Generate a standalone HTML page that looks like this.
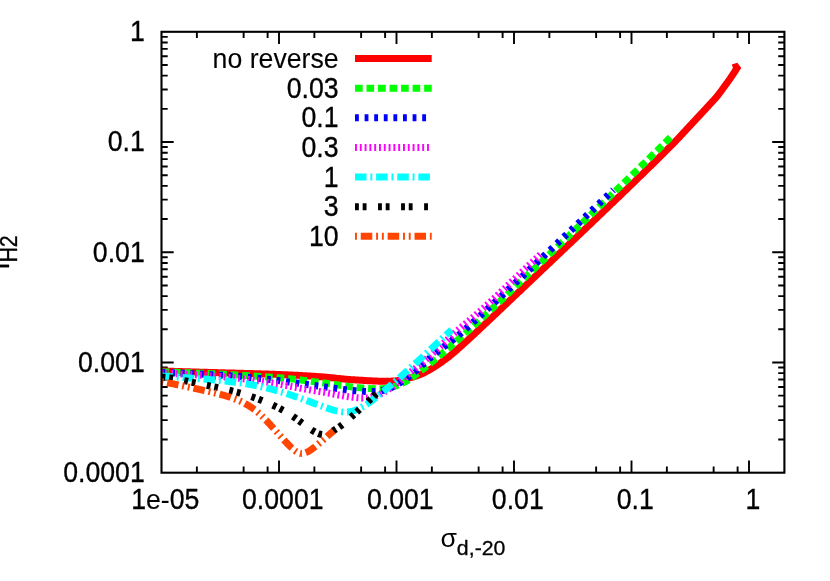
<!DOCTYPE html>
<html><head><meta charset="utf-8"><title>fH2 vs sigma_d</title>
<style>html,body{margin:0;padding:0;background:#fff;overflow:hidden}svg{display:block}text{font-family:"Liberation Sans",sans-serif}</style></head>
<body>
<svg width="830" height="581" viewBox="0 0 830 581">
<rect width="830" height="581" fill="#ffffff"/>
<path d="M161.50,108.84h6.20M784.40,108.84h-6.20M161.50,89.43h6.20M784.40,89.43h-6.20M161.50,75.66h6.20M784.40,75.66h-6.20M161.50,64.98h6.20M784.40,64.98h-6.20M161.50,56.25h6.20M784.40,56.25h-6.20M161.50,48.87h6.20M784.40,48.87h-6.20M161.50,42.48h6.20M784.40,42.48h-6.20M161.50,36.84h6.20M784.40,36.84h-6.20M161.50,142.03h12.20M784.40,142.03h-12.20M161.50,219.07h6.20M784.40,219.07h-6.20M161.50,199.66h6.20M784.40,199.66h-6.20M161.50,185.89h6.20M784.40,185.89h-6.20M161.50,175.21h6.20M784.40,175.21h-6.20M161.50,166.48h6.20M784.40,166.48h-6.20M161.50,159.10h6.20M784.40,159.10h-6.20M161.50,152.71h6.20M784.40,152.71h-6.20M161.50,147.07h6.20M784.40,147.07h-6.20M161.50,252.25h12.20M784.40,252.25h-12.20M161.50,329.29h6.20M784.40,329.29h-6.20M161.50,309.88h6.20M784.40,309.88h-6.20M161.50,296.11h6.20M784.40,296.11h-6.20M161.50,285.43h6.20M784.40,285.43h-6.20M161.50,276.70h6.20M784.40,276.70h-6.20M161.50,269.32h6.20M784.40,269.32h-6.20M161.50,262.93h6.20M784.40,262.93h-6.20M161.50,257.29h6.20M784.40,257.29h-6.20M161.50,362.47h12.20M784.40,362.47h-12.20M161.50,439.52h6.20M784.40,439.52h-6.20M161.50,420.11h6.20M784.40,420.11h-6.20M161.50,406.34h6.20M784.40,406.34h-6.20M161.50,395.66h6.20M784.40,395.66h-6.20M161.50,386.93h6.20M784.40,386.93h-6.20M161.50,379.55h6.20M784.40,379.55h-6.20M161.50,373.16h6.20M784.40,373.16h-6.20M161.50,367.52h6.20M784.40,367.52h-6.20M196.87,472.70v-6.20M196.87,31.80v6.20M243.63,472.70v-6.20M243.63,31.80v6.20M267.61,472.70v-6.20M267.61,31.80v6.20M279.00,472.70v-12.20M279.00,31.80v12.20M314.37,472.70v-6.20M314.37,31.80v6.20M361.13,472.70v-6.20M361.13,31.80v6.20M385.11,472.70v-6.20M385.11,31.80v6.20M396.50,472.70v-12.20M396.50,31.80v12.20M431.87,472.70v-6.20M431.87,31.80v6.20M478.63,472.70v-6.20M478.63,31.80v6.20M502.61,472.70v-6.20M502.61,31.80v6.20M514.00,472.70v-12.20M514.00,31.80v12.20M549.37,472.70v-6.20M549.37,31.80v6.20M596.13,472.70v-6.20M596.13,31.80v6.20M620.11,472.70v-6.20M620.11,31.80v6.20M631.50,472.70v-12.20M631.50,31.80v12.20M666.87,472.70v-6.20M666.87,31.80v6.20M713.63,472.70v-6.20M713.63,31.80v6.20M737.61,472.70v-6.20M737.61,31.80v6.20M749.00,472.70v-12.20M749.00,31.80v12.20" stroke="#000" stroke-width="1.90" fill="none"/>
<clipPath id="c"><rect x="161.50" y="31.80" width="622.90" height="440.90"/></clipPath>
<g clip-path="url(#c)" fill="none" stroke-width="7.0" stroke-linejoin="bevel">
<path d="M161.50,371.00 L162.50,371.03 L163.50,371.06 L164.50,371.09 L165.50,371.12 L166.50,371.15 L167.50,371.18 L168.50,371.21 L169.50,371.24 L170.50,371.27 L171.50,371.30 L172.50,371.33 L173.50,371.36 L174.50,371.39 L175.50,371.42 L176.50,371.45 L177.50,371.48 L178.50,371.51 L179.50,371.54 L180.50,371.57 L181.50,371.60 L182.50,371.63 L183.50,371.66 L184.50,371.69 L185.50,371.72 L186.50,371.75 L187.50,371.78 L188.50,371.81 L189.50,371.84 L190.50,371.87 L191.50,371.90 L192.50,371.93 L193.50,371.96 L194.50,371.99 L195.50,372.01 L196.50,372.04 L197.50,372.07 L198.50,372.10 L199.50,372.13 L200.50,372.16 L201.50,372.19 L202.50,372.22 L203.50,372.25 L204.50,372.28 L205.50,372.31 L206.50,372.34 L207.50,372.37 L208.50,372.39 L209.50,372.42 L210.50,372.45 L211.50,372.48 L212.50,372.51 L213.50,372.54 L214.50,372.57 L215.50,372.60 L216.50,372.62 L217.50,372.65 L218.50,372.68 L219.50,372.71 L220.50,372.74 L221.50,372.76 L222.50,372.79 L223.50,372.82 L224.50,372.85 L225.50,372.88 L226.50,372.90 L227.50,372.93 L228.50,372.96 L229.50,372.99 L230.50,373.01 L231.50,373.04 L232.50,373.07 L233.50,373.10 L234.50,373.12 L235.50,373.15 L236.50,373.18 L237.50,373.20 L238.50,373.23 L239.50,373.26 L240.50,373.28 L241.50,373.31 L242.50,373.34 L243.50,373.37 L244.50,373.39 L245.50,373.42 L246.50,373.45 L247.50,373.48 L248.50,373.50 L249.50,373.53 L250.50,373.56 L251.50,373.59 L252.50,373.62 L253.50,373.65 L254.50,373.68 L255.50,373.71 L256.50,373.74 L257.50,373.77 L258.50,373.80 L259.50,373.83 L260.50,373.86 L261.50,373.89 L262.50,373.92 L263.50,373.95 L264.50,373.98 L265.50,374.02 L266.50,374.05 L267.50,374.08 L268.50,374.12 L269.50,374.15 L270.50,374.19 L271.50,374.22 L272.50,374.26 L273.50,374.29 L274.50,374.33 L275.50,374.37 L276.50,374.40 L277.50,374.44 L278.50,374.48 L279.50,374.52 L280.50,374.56 L281.50,374.60 L282.50,374.64 L283.50,374.68 L284.50,374.72 L285.50,374.77 L286.50,374.81 L287.50,374.85 L288.50,374.90 L289.50,374.94 L290.50,374.99 L291.50,375.03 L292.50,375.08 L293.50,375.13 L294.50,375.18 L295.50,375.22 L296.50,375.27 L297.50,375.32 L298.50,375.37 L299.50,375.43 L300.50,375.48 L301.50,375.53 L302.50,375.59 L303.50,375.64 L304.50,375.70 L305.50,375.76 L306.50,375.81 L307.50,375.87 L308.50,375.93 L309.50,376.00 L310.50,376.06 L311.50,376.12 L312.50,376.19 L313.50,376.26 L314.50,376.33 L315.50,376.40 L316.50,376.47 L317.50,376.54 L318.50,376.62 L319.50,376.69 L320.50,376.77 L321.50,376.85 L322.50,376.93 L323.50,377.01 L324.50,377.10 L325.50,377.19 L326.50,377.27 L327.50,377.36 L328.50,377.46 L329.50,377.55 L330.50,377.65 L331.50,377.75 L332.50,377.85 L333.50,377.95 L334.50,378.05 L335.50,378.15 L336.50,378.26 L337.50,378.36 L338.50,378.46 L339.50,378.56 L340.50,378.66 L341.50,378.76 L342.50,378.86 L343.50,378.95 L344.50,379.05 L345.50,379.14 L346.50,379.22 L347.50,379.31 L348.50,379.39 L349.50,379.47 L350.50,379.55 L351.50,379.62 L352.50,379.70 L353.50,379.77 L354.50,379.84 L355.50,379.91 L356.50,379.98 L357.50,380.04 L358.50,380.11 L359.50,380.17 L360.50,380.23 L361.50,380.29 L362.50,380.35 L363.50,380.41 L364.50,380.47 L365.50,380.53 L366.50,380.59 L367.50,380.64 L368.50,380.70 L369.50,380.75 L370.50,380.80 L371.50,380.85 L372.50,380.90 L373.50,380.94 L374.50,380.99 L375.50,381.02 L376.50,381.06 L377.50,381.10 L378.50,381.13 L379.50,381.15 L380.50,381.18 L381.50,381.19 L382.50,381.21 L383.50,381.22 L384.50,381.22 L385.50,381.22 L386.50,381.22 L387.50,381.21 L388.50,381.19 L389.50,381.17 L390.50,381.14 L391.50,381.10 L392.50,381.05 L393.50,380.98 L394.50,380.90 L395.50,380.81 L396.50,380.70 L397.50,380.57 L398.50,380.42 L399.50,380.25 L400.50,380.07 L401.50,379.87 L402.50,379.65 L403.50,379.42 L404.50,379.18 L405.50,378.94 L406.50,378.68 L407.50,378.43 L408.50,378.17 L409.50,377.91 L410.50,377.65 L411.50,377.38 L412.50,377.10 L413.50,376.82 L414.50,376.52 L415.50,376.21 L416.50,375.88 L417.50,375.54 L418.50,375.18 L419.50,374.80 L420.50,374.40 L421.50,373.97 L422.50,373.52 L423.50,373.05 L424.50,372.57 L425.50,372.06 L426.50,371.53 L427.50,370.99 L428.50,370.44 L429.50,369.86 L430.50,369.28 L431.50,368.68 L432.50,368.07 L433.50,367.45 L434.50,366.82 L435.50,366.18 L436.50,365.53 L437.50,364.87 L438.50,364.21 L439.50,363.53 L440.50,362.85 L441.50,362.15 L442.50,361.44 L443.50,360.73 L444.50,360.00 L445.50,359.25 L446.50,358.50 L447.50,357.73 L448.50,356.95 L449.50,356.16 L450.50,355.35 L451.50,354.52 L452.50,353.69 L453.50,352.84 L454.50,351.99 L455.50,351.12 L456.50,350.25 L457.50,349.37 L458.50,348.48 L459.50,347.59 L460.50,346.69 L461.50,345.80 L462.50,344.90 L463.50,343.99 L464.50,343.09 L465.50,342.18 L466.50,341.27 L467.50,340.36 L468.50,339.44 L469.50,338.52 L470.50,337.60 L471.50,336.67 L472.50,335.75 L473.50,334.82 L474.50,333.89 L475.50,332.95 L476.50,332.02 L477.50,331.08 L478.50,330.14 L479.50,329.20 L480.50,328.26 L481.50,327.32 L482.50,326.38 L483.50,325.44 L484.50,324.50 L485.50,323.55 L486.50,322.61 L487.50,321.66 L488.50,320.72 L489.50,319.77 L490.50,318.83 L491.50,317.88 L492.50,316.94 L493.50,315.99 L494.50,315.04 L495.50,314.10 L496.50,313.15 L497.50,312.20 L498.50,311.25 L499.50,310.31 L500.50,309.36 L501.50,308.41 L502.50,307.46 L503.50,306.51 L504.50,305.57 L505.50,304.62 L506.50,303.67 L507.50,302.72 L508.50,301.77 L509.50,300.82 L510.50,299.88 L511.50,298.93 L512.50,297.98 L513.50,297.03 L514.50,296.08 L515.50,295.13 L516.50,294.19 L517.50,293.24 L518.50,292.29 L519.50,291.34 L520.50,290.39 L521.50,289.44 L522.50,288.49 L523.50,287.55 L524.50,286.60 L525.50,285.65 L526.50,284.70 L527.50,283.75 L528.50,282.80 L529.50,281.85 L530.50,280.90 L531.50,279.96 L532.50,279.01 L533.50,278.06 L534.50,277.11 L535.50,276.16 L536.50,275.21 L537.50,274.26 L538.50,273.31 L539.50,272.36 L540.50,271.41 L541.50,270.47 L542.50,269.52 L543.50,268.57 L544.50,267.62 L545.50,266.67 L546.50,265.72 L547.50,264.77 L548.50,263.82 L549.50,262.87 L550.50,261.92 L551.50,260.97 L552.50,260.02 L553.50,259.07 L554.50,258.12 L555.50,257.17 L556.50,256.22 L557.50,255.27 L558.50,254.32 L559.50,253.37 L560.50,252.42 L561.50,251.47 L562.50,250.52 L563.50,249.57 L564.50,248.62 L565.50,247.67 L566.50,246.72 L567.50,245.77 L568.50,244.82 L569.50,243.87 L570.50,242.92 L571.50,241.97 L572.50,241.02 L573.50,240.07 L574.50,239.12 L575.50,238.17 L576.50,237.22 L577.50,236.26 L578.50,235.31 L579.50,234.36 L580.50,233.41 L581.50,232.46 L582.50,231.51 L583.50,230.55 L584.50,229.60 L585.50,228.65 L586.50,227.70 L587.50,226.74 L588.50,225.79 L589.50,224.84 L590.50,223.89 L591.50,222.93 L592.50,221.98 L593.50,221.03 L594.50,220.07 L595.50,219.12 L596.50,218.17 L597.50,217.21 L598.50,216.26 L599.50,215.30 L600.50,214.35 L601.50,213.39 L602.50,212.44 L603.50,211.48 L604.50,210.53 L605.50,209.57 L606.50,208.61 L607.50,207.66 L608.50,206.70 L609.50,205.75 L610.50,204.79 L611.50,203.83 L612.50,202.87 L613.50,201.91 L614.50,200.96 L615.50,200.00 L616.50,199.04 L617.50,198.08 L618.50,197.12 L619.50,196.16 L620.50,195.20 L621.50,194.24 L622.50,193.28 L623.50,192.32 L624.50,191.35 L625.50,190.39 L626.50,189.43 L627.50,188.47 L628.50,187.50 L629.50,186.54 L630.50,185.57 L631.50,184.61 L632.50,183.64 L633.50,182.67 L634.50,181.71 L635.50,180.74 L636.50,179.77 L637.50,178.80 L638.50,177.83 L639.50,176.86 L640.50,175.89 L641.50,174.92 L642.50,173.95 L643.50,172.98 L644.50,172.00 L645.50,171.03 L646.50,170.05 L647.50,169.08 L648.50,168.10 L649.50,167.12 L650.50,166.14 L651.50,165.16 L652.50,164.18 L653.50,163.20 L654.50,162.21 L655.50,161.23 L656.50,160.24 L657.50,159.26 L658.50,158.27 L659.50,157.28 L660.50,156.29 L661.50,155.30 L662.50,154.31 L663.50,153.31 L664.50,152.32 L665.50,151.32 L666.50,150.32 L667.50,149.32 L668.50,148.32 L669.50,147.31 L670.50,146.31 L671.50,145.29 L672.50,144.28 L673.50,143.26 L674.50,142.24 L675.50,141.21 L676.50,140.17 L677.50,139.13 L678.50,138.08 L679.50,137.03 L680.50,135.97 L681.50,134.90 L682.50,133.82 L683.50,132.74 L684.50,131.66 L685.50,130.58 L686.50,129.49 L687.50,128.41 L688.50,127.33 L689.50,126.24 L690.50,125.17 L691.50,124.09 L692.50,123.01 L693.50,121.94 L694.50,120.86 L695.50,119.79 L696.50,118.72 L697.50,117.65 L698.50,116.58 L699.50,115.51 L700.50,114.44 L701.50,113.36 L702.50,112.29 L703.50,111.21 L704.50,110.13 L705.50,109.06 L706.50,107.98 L707.50,106.90 L708.50,105.82 L709.50,104.74 L710.50,103.66 L711.50,102.58 L712.50,101.49 L713.50,100.39 L714.50,99.26 L715.50,98.12 L716.50,96.94 L717.50,95.72 L718.50,94.47 L719.50,93.17 L720.50,91.84 L721.50,90.48 L722.50,89.11 L723.50,87.73 L724.50,86.34 L725.50,84.96 L726.50,83.59 L727.50,82.22 L728.50,80.84 L729.50,79.44 L730.50,78.01 L731.50,76.55 L732.50,75.05 L733.50,73.54 L734.50,72.01 L735.50,70.47 L736.50,68.93 L737.50,67.39 L738.40,66.00 L732.90,67.90" stroke="#ff0000"/>
<path d="M161.50,371.80 L162.50,371.83 L163.50,371.87 L164.50,371.90 L165.50,371.94 L166.50,371.97 L167.50,372.01 L168.50,372.04 L169.50,372.07 L170.50,372.11 L171.50,372.14 L172.50,372.18 L173.50,372.21 L174.50,372.25 L175.50,372.28 L176.50,372.32 L177.50,372.35 L178.50,372.39 L179.50,372.43 L180.50,372.46 L181.50,372.50 L182.50,372.53 L183.50,372.57 L184.50,372.61 L185.50,372.64 L186.50,372.68 L187.50,372.72 L188.50,372.75 L189.50,372.79 L190.50,372.83 L191.50,372.87 L192.50,372.90 L193.50,372.94 L194.50,372.98 L195.50,373.02 L196.50,373.06 L197.50,373.10 L198.50,373.14 L199.50,373.18 L200.50,373.22 L201.50,373.26 L202.50,373.30 L203.50,373.34 L204.50,373.38 L205.50,373.43 L206.50,373.47 L207.50,373.51 L208.50,373.55 L209.50,373.60 L210.50,373.64 L211.50,373.69 L212.50,373.73 L213.50,373.78 L214.50,373.82 L215.50,373.87 L216.50,373.92 L217.50,373.96 L218.50,374.01 L219.50,374.06 L220.50,374.11 L221.50,374.16 L222.50,374.21 L223.50,374.26 L224.50,374.31 L225.50,374.36 L226.50,374.41 L227.50,374.47 L228.50,374.52 L229.50,374.57 L230.50,374.63 L231.50,374.68 L232.50,374.74 L233.50,374.79 L234.50,374.85 L235.50,374.91 L236.50,374.97 L237.50,375.03 L238.50,375.08 L239.50,375.14 L240.50,375.20 L241.50,375.26 L242.50,375.33 L243.50,375.39 L244.50,375.45 L245.50,375.51 L246.50,375.57 L247.50,375.64 L248.50,375.70 L249.50,375.77 L250.50,375.83 L251.50,375.89 L252.50,375.96 L253.50,376.03 L254.50,376.09 L255.50,376.16 L256.50,376.22 L257.50,376.29 L258.50,376.36 L259.50,376.43 L260.50,376.49 L261.50,376.56 L262.50,376.63 L263.50,376.70 L264.50,376.77 L265.50,376.83 L266.50,376.90 L267.50,376.97 L268.50,377.04 L269.50,377.11 L270.50,377.18 L271.50,377.25 L272.50,377.33 L273.50,377.40 L274.50,377.47 L275.50,377.55 L276.50,377.62 L277.50,377.70 L278.50,377.78 L279.50,377.86 L280.50,377.94 L281.50,378.02 L282.50,378.10 L283.50,378.19 L284.50,378.27 L285.50,378.36 L286.50,378.45 L287.50,378.54 L288.50,378.64 L289.50,378.73 L290.50,378.83 L291.50,378.93 L292.50,379.03 L293.50,379.14 L294.50,379.25 L295.50,379.36 L296.50,379.47 L297.50,379.58 L298.50,379.70 L299.50,379.82 L300.50,379.94 L301.50,380.06 L302.50,380.18 L303.50,380.31 L304.50,380.43 L305.50,380.56 L306.50,380.69 L307.50,380.82 L308.50,380.95 L309.50,381.08 L310.50,381.21 L311.50,381.34 L312.50,381.47 L313.50,381.60 L314.50,381.73 L315.50,381.87 L316.50,382.00 L317.50,382.13 L318.50,382.26 L319.50,382.39 L320.50,382.52 L321.50,382.65 L322.50,382.78 L323.50,382.91 L324.50,383.04 L325.50,383.18 L326.50,383.31 L327.50,383.45 L328.50,383.59 L329.50,383.73 L330.50,383.87 L331.50,384.02 L332.50,384.16 L333.50,384.31 L334.50,384.46 L335.50,384.61 L336.50,384.75 L337.50,384.90 L338.50,385.05 L339.50,385.20 L340.50,385.35 L341.50,385.50 L342.50,385.64 L343.50,385.79 L344.50,385.93 L345.50,386.07 L346.50,386.21 L347.50,386.34 L348.50,386.47 L349.50,386.60 L350.50,386.73 L351.50,386.85 L352.50,386.97 L353.50,387.08 L354.50,387.20 L355.50,387.31 L356.50,387.41 L357.50,387.52 L358.50,387.62 L359.50,387.71 L360.50,387.81 L361.50,387.90 L362.50,387.99 L363.50,388.08 L364.50,388.16 L365.50,388.24 L366.50,388.32 L367.50,388.39 L368.50,388.46 L369.50,388.53 L370.50,388.59 L371.50,388.64 L372.50,388.69 L373.50,388.73 L374.50,388.76 L375.50,388.78 L376.50,388.80 L377.50,388.80 L378.50,388.80 L379.50,388.78 L380.50,388.75 L381.50,388.70 L382.50,388.64 L383.50,388.56 L384.50,388.47 L385.50,388.36 L386.50,388.23 L387.50,388.08 L388.50,387.90 L389.50,387.71 L390.50,387.49 L391.50,387.24 L392.50,386.97 L393.50,386.68 L394.50,386.37 L395.50,386.04 L396.50,385.68 L397.50,385.31 L398.50,384.92 L399.50,384.51 L400.50,384.08 L401.50,383.64 L402.50,383.18 L403.50,382.70 L404.50,382.20 L405.50,381.67 L406.50,381.12 L407.50,380.55 L408.50,379.95 L409.50,379.32 L410.50,378.67 L411.50,377.99 L412.50,377.28 L413.50,376.55 L414.50,375.80 L415.50,375.04 L416.50,374.27 L417.50,373.48 L418.50,372.69 L419.50,371.90 L420.50,371.10 L421.50,370.31 L422.50,369.52 L423.50,368.73 L424.50,367.93 L425.50,367.14 L426.50,366.35 L427.50,365.55 L428.50,364.75 L429.50,363.96 L430.50,363.15 L431.50,362.35 L432.50,361.54 L433.50,360.73 L434.50,359.91 L435.50,359.09 L436.50,358.26 L437.50,357.43 L438.50,356.60 L439.50,355.76 L440.50,354.91 L441.50,354.07 L442.50,353.21 L443.50,352.36 L444.50,351.50 L445.50,350.65 L446.50,349.78 L447.50,348.92 L448.50,348.06 L449.50,347.19 L450.50,346.32 L451.50,345.45 L452.50,344.58 L453.50,343.71 L454.50,342.83 L455.50,341.96 L456.50,341.08 L457.50,340.20 L458.50,339.32 L459.50,338.44 L460.50,337.56 L461.50,336.68 L462.50,335.79 L463.50,334.90 L464.50,334.02 L465.50,333.13 L466.50,332.23 L467.50,331.34 L468.50,330.44 L469.50,329.55 L470.50,328.65 L471.50,327.74 L472.50,326.84 L473.50,325.94 L474.50,325.03 L475.50,324.12 L476.50,323.21 L477.50,322.29 L478.50,321.38 L479.50,320.46 L480.50,319.54 L481.50,318.62 L482.50,317.70 L483.50,316.77 L484.50,315.84 L485.50,314.91 L486.50,313.98 L487.50,313.05 L488.50,312.11 L489.50,311.17 L490.50,310.24 L491.50,309.30 L492.50,308.36 L493.50,307.41 L494.50,306.47 L495.50,305.53 L496.50,304.58 L497.50,303.63 L498.50,302.68 L499.50,301.74 L500.50,300.79 L501.50,299.84 L502.50,298.88 L503.50,297.93 L504.50,296.98 L505.50,296.03 L506.50,295.08 L507.50,294.12 L508.50,293.17 L509.50,292.21 L510.50,291.26 L511.50,290.31 L512.50,289.35 L513.50,288.40 L514.50,287.44 L515.50,286.49 L516.50,285.54 L517.50,284.58 L518.50,283.63 L519.50,282.68 L520.50,281.73 L521.50,280.78 L522.50,279.82 L523.50,278.87 L524.50,277.92 L525.50,276.98 L526.50,276.03 L527.50,275.08 L528.50,274.13 L529.50,273.18 L530.50,272.24 L531.50,271.29 L532.50,270.34 L533.50,269.40 L534.50,268.45 L535.50,267.50 L536.50,266.56 L537.50,265.61 L538.50,264.66 L539.50,263.72 L540.50,262.77 L541.50,261.83 L542.50,260.88 L543.50,259.93 L544.50,258.99 L545.50,258.04 L546.50,257.09 L547.50,256.15 L548.50,255.20 L549.50,254.25 L550.50,253.30 L551.50,252.36 L552.50,251.41 L553.50,250.46 L554.50,249.51 L555.50,248.56 L556.50,247.61 L557.50,246.66 L558.50,245.71 L559.50,244.75 L560.50,243.80 L561.50,242.85 L562.50,241.89 L563.50,240.94 L564.50,239.98 L565.50,239.03 L566.50,238.07 L567.50,237.12 L568.50,236.16 L569.50,235.20 L570.50,234.24 L571.50,233.28 L572.50,232.32 L573.50,231.36 L574.50,230.40 L575.50,229.44 L576.50,228.48 L577.50,227.52 L578.50,226.56 L579.50,225.60 L580.50,224.64 L581.50,223.68 L582.50,222.71 L583.50,221.75 L584.50,220.79 L585.50,219.83 L586.50,218.86 L587.50,217.90 L588.50,216.94 L589.50,215.97 L590.50,215.01 L591.50,214.05 L592.50,213.08 L593.50,212.12 L594.50,211.16 L595.50,210.19 L596.50,209.23 L597.50,208.27 L598.50,207.30 L599.50,206.34 L600.50,205.38 L601.50,204.42 L602.50,203.45 L603.50,202.49 L604.50,201.53 L605.50,200.57 L606.50,199.60 L607.50,198.64 L608.50,197.68 L609.50,196.72 L610.50,195.75 L611.50,194.79 L612.50,193.83 L613.50,192.87 L614.50,191.90 L615.50,190.94 L616.50,189.98 L617.50,189.02 L618.50,188.05 L619.50,187.09 L620.50,186.13 L621.50,185.16 L622.50,184.20 L623.50,183.23 L624.50,182.27 L625.50,181.30 L626.50,180.34 L627.50,179.37 L628.50,178.41 L629.50,177.44 L630.50,176.48 L631.50,175.51 L632.50,174.54 L633.50,173.58 L634.50,172.61 L635.50,171.64 L636.50,170.67 L637.50,169.70 L638.50,168.73 L639.50,167.76 L640.50,166.79 L641.50,165.82 L642.50,164.85 L643.50,163.88 L644.50,162.90 L645.50,161.93 L646.50,160.96 L647.50,159.98 L648.50,159.00 L649.50,158.03 L650.50,157.05 L651.50,156.07 L652.50,155.09 L653.50,154.10 L654.50,153.12 L655.50,152.14 L656.50,151.15 L657.50,150.16 L658.50,149.17 L659.50,148.18 L660.50,147.19 L661.50,146.19 L662.50,145.20 L663.50,144.20 L664.50,143.20 L665.50,142.21 L666.50,141.21 L667.50,140.20 L668.50,139.20 L669.50,138.20 L670.50,137.20 L671.00,136.70" stroke="#00ff00" stroke-dasharray="7.68,3.84"/>
<path d="M161.50,372.40 L162.50,372.44 L163.50,372.48 L164.50,372.52 L165.50,372.56 L166.50,372.60 L167.50,372.64 L168.50,372.68 L169.50,372.72 L170.50,372.76 L171.50,372.80 L172.50,372.84 L173.50,372.88 L174.50,372.92 L175.50,372.96 L176.50,373.00 L177.50,373.04 L178.50,373.08 L179.50,373.12 L180.50,373.17 L181.50,373.21 L182.50,373.25 L183.50,373.29 L184.50,373.33 L185.50,373.38 L186.50,373.42 L187.50,373.46 L188.50,373.51 L189.50,373.55 L190.50,373.60 L191.50,373.64 L192.50,373.69 L193.50,373.73 L194.50,373.78 L195.50,373.82 L196.50,373.87 L197.50,373.92 L198.50,373.96 L199.50,374.01 L200.50,374.06 L201.50,374.11 L202.50,374.16 L203.50,374.21 L204.50,374.26 L205.50,374.31 L206.50,374.36 L207.50,374.42 L208.50,374.47 L209.50,374.52 L210.50,374.58 L211.50,374.63 L212.50,374.69 L213.50,374.74 L214.50,374.80 L215.50,374.86 L216.50,374.92 L217.50,374.98 L218.50,375.04 L219.50,375.10 L220.50,375.16 L221.50,375.22 L222.50,375.29 L223.50,375.35 L224.50,375.42 L225.50,375.49 L226.50,375.55 L227.50,375.62 L228.50,375.69 L229.50,375.76 L230.50,375.84 L231.50,375.91 L232.50,375.98 L233.50,376.06 L234.50,376.13 L235.50,376.21 L236.50,376.29 L237.50,376.37 L238.50,376.45 L239.50,376.53 L240.50,376.62 L241.50,376.70 L242.50,376.78 L243.50,376.87 L244.50,376.96 L245.50,377.05 L246.50,377.14 L247.50,377.23 L248.50,377.32 L249.50,377.41 L250.50,377.51 L251.50,377.60 L252.50,377.70 L253.50,377.79 L254.50,377.89 L255.50,377.99 L256.50,378.09 L257.50,378.20 L258.50,378.30 L259.50,378.40 L260.50,378.51 L261.50,378.62 L262.50,378.72 L263.50,378.83 L264.50,378.94 L265.50,379.06 L266.50,379.17 L267.50,379.28 L268.50,379.40 L269.50,379.51 L270.50,379.63 L271.50,379.75 L272.50,379.87 L273.50,379.99 L274.50,380.11 L275.50,380.23 L276.50,380.36 L277.50,380.48 L278.50,380.61 L279.50,380.73 L280.50,380.86 L281.50,380.99 L282.50,381.12 L283.50,381.25 L284.50,381.38 L285.50,381.51 L286.50,381.64 L287.50,381.78 L288.50,381.91 L289.50,382.05 L290.50,382.18 L291.50,382.32 L292.50,382.45 L293.50,382.59 L294.50,382.73 L295.50,382.87 L296.50,383.01 L297.50,383.15 L298.50,383.29 L299.50,383.43 L300.50,383.57 L301.50,383.71 L302.50,383.85 L303.50,384.00 L304.50,384.14 L305.50,384.28 L306.50,384.42 L307.50,384.56 L308.50,384.70 L309.50,384.84 L310.50,384.98 L311.50,385.12 L312.50,385.26 L313.50,385.40 L314.50,385.53 L315.50,385.67 L316.50,385.80 L317.50,385.94 L318.50,386.07 L319.50,386.20 L320.50,386.33 L321.50,386.47 L322.50,386.60 L323.50,386.73 L324.50,386.86 L325.50,387.00 L326.50,387.13 L327.50,387.26 L328.50,387.40 L329.50,387.53 L330.50,387.67 L331.50,387.81 L332.50,387.94 L333.50,388.08 L334.50,388.22 L335.50,388.36 L336.50,388.49 L337.50,388.63 L338.50,388.77 L339.50,388.90 L340.50,389.04 L341.50,389.17 L342.50,389.30 L343.50,389.43 L344.50,389.56 L345.50,389.68 L346.50,389.80 L347.50,389.92 L348.50,390.03 L349.50,390.15 L350.50,390.25 L351.50,390.36 L352.50,390.46 L353.50,390.55 L354.50,390.65 L355.50,390.74 L356.50,390.82 L357.50,390.90 L358.50,390.98 L359.50,391.06 L360.50,391.13 L361.50,391.20 L362.50,391.27 L363.50,391.33 L364.50,391.39 L365.50,391.45 L366.50,391.50 L367.50,391.54 L368.50,391.57 L369.50,391.60 L370.50,391.61 L371.50,391.62 L372.50,391.61 L373.50,391.59 L374.50,391.55 L375.50,391.50 L376.50,391.43 L377.50,391.33 L378.50,391.22 L379.50,391.08 L380.50,390.92 L381.50,390.74 L382.50,390.52 L383.50,390.27 L384.50,390.00 L385.50,389.69 L386.50,389.36 L387.50,389.00 L388.50,388.61 L389.50,388.21 L390.50,387.77 L391.50,387.32 L392.50,386.84 L393.50,386.35 L394.50,385.84 L395.50,385.31 L396.50,384.75 L397.50,384.18 L398.50,383.60 L399.50,382.99 L400.50,382.36 L401.50,381.71 L402.50,381.04 L403.50,380.35 L404.50,379.65 L405.50,378.92 L406.50,378.18 L407.50,377.42 L408.50,376.64 L409.50,375.86 L410.50,375.05 L411.50,374.24 L412.50,373.42 L413.50,372.58 L414.50,371.74 L415.50,370.89 L416.50,370.03 L417.50,369.16 L418.50,368.29 L419.50,367.41 L420.50,366.53 L421.50,365.64 L422.50,364.74 L423.50,363.85 L424.50,362.95 L425.50,362.05 L426.50,361.15 L427.50,360.25 L428.50,359.35 L429.50,358.45 L430.50,357.56 L431.50,356.68 L432.50,355.80 L433.50,354.94 L434.50,354.08 L435.50,353.24 L436.50,352.41 L437.50,351.59 L438.50,350.80 L439.50,350.01 L440.50,349.24 L441.50,348.47 L442.50,347.71 L443.50,346.96 L444.50,346.21 L445.50,345.46 L446.50,344.71 L447.50,343.96 L448.50,343.20 L449.50,342.44 L450.50,341.67 L451.50,340.89 L452.50,340.10 L453.50,339.30 L454.50,338.49 L455.50,337.67 L456.50,336.85 L457.50,336.02 L458.50,335.18 L459.50,334.33 L460.50,333.48 L461.50,332.62 L462.50,331.75 L463.50,330.88 L464.50,330.00 L465.50,329.12 L466.50,328.23 L467.50,327.34 L468.50,326.45 L469.50,325.55 L470.50,324.64 L471.50,323.74 L472.50,322.83 L473.50,321.91 L474.50,321.00 L475.50,320.08 L476.50,319.16 L477.50,318.24 L478.50,317.31 L479.50,316.39 L480.50,315.47 L481.50,314.54 L482.50,313.62 L483.50,312.69 L484.50,311.76 L485.50,310.84 L486.50,309.91 L487.50,308.98 L488.50,308.05 L489.50,307.12 L490.50,306.19 L491.50,305.26 L492.50,304.33 L493.50,303.40 L494.50,302.47 L495.50,301.54 L496.50,300.61 L497.50,299.67 L498.50,298.74 L499.50,297.81 L500.50,296.87 L501.50,295.94 L502.50,295.00 L503.50,294.07 L504.50,293.13 L505.50,292.19 L506.50,291.26 L507.50,290.32 L508.50,289.38 L509.50,288.44 L510.50,287.50 L511.50,286.56 L512.50,285.63 L513.50,284.69 L514.50,283.74 L515.50,282.80 L516.50,281.86 L517.50,280.92 L518.50,279.98 L519.50,279.04 L520.50,278.09 L521.50,277.15 L522.50,276.21 L523.50,275.26 L524.50,274.32 L525.50,273.37 L526.50,272.43 L527.50,271.48 L528.50,270.54 L529.50,269.59 L530.50,268.65 L531.50,267.70 L532.50,266.76 L533.50,265.81 L534.50,264.86 L535.50,263.91 L536.50,262.97 L537.50,262.02 L538.50,261.07 L539.50,260.12 L540.50,259.18 L541.50,258.23 L542.50,257.28 L543.50,256.33 L544.50,255.38 L545.50,254.43 L546.50,253.49 L547.50,252.54 L548.50,251.59 L549.50,250.64 L550.50,249.69 L551.50,248.74 L552.50,247.79 L553.50,246.84 L554.50,245.90 L555.50,244.95 L556.50,244.00 L557.50,243.05 L558.50,242.10 L559.50,241.15 L560.50,240.20 L561.50,239.26 L562.50,238.31 L563.50,237.36 L564.50,236.41 L565.50,235.46 L566.50,234.52 L567.50,233.57 L568.50,232.62 L569.50,231.67 L570.50,230.72 L571.50,229.78 L572.50,228.83 L573.50,227.88 L574.50,226.93 L575.50,225.98 L576.50,225.04 L577.50,224.09 L578.50,223.14 L579.50,222.19 L580.50,221.24 L581.50,220.30 L582.50,219.35 L583.50,218.40 L584.50,217.45 L585.50,216.50 L586.50,215.55 L587.50,214.60 L588.50,213.65 L589.50,212.71 L590.50,211.76 L591.50,210.81 L592.50,209.86 L593.50,208.91 L594.50,207.96 L595.50,207.01 L596.50,206.06 L597.50,205.10 L598.50,204.15 L599.50,203.20 L600.50,202.25 L601.50,201.30 L602.50,200.35 L603.50,199.39 L604.50,198.44 L605.50,197.49 L606.50,196.54 L607.50,195.58 L608.50,194.63 L609.50,193.68 L610.50,192.73 L611.50,191.77 L612.50,190.82 L613.40,189.96" stroke="#0000ff" stroke-dasharray="3.84,5.76"/>
<path d="M161.50,373.00 L162.50,373.05 L163.50,373.10 L164.50,373.15 L165.50,373.20 L166.50,373.25 L167.50,373.31 L168.50,373.36 L169.50,373.41 L170.50,373.46 L171.50,373.51 L172.50,373.56 L173.50,373.62 L174.50,373.67 L175.50,373.72 L176.50,373.77 L177.50,373.82 L178.50,373.88 L179.50,373.93 L180.50,373.98 L181.50,374.04 L182.50,374.09 L183.50,374.15 L184.50,374.20 L185.50,374.26 L186.50,374.31 L187.50,374.37 L188.50,374.42 L189.50,374.48 L190.50,374.54 L191.50,374.60 L192.50,374.65 L193.50,374.71 L194.50,374.77 L195.50,374.83 L196.50,374.89 L197.50,374.95 L198.50,375.01 L199.50,375.07 L200.50,375.14 L201.50,375.20 L202.50,375.26 L203.50,375.33 L204.50,375.39 L205.50,375.46 L206.50,375.52 L207.50,375.59 L208.50,375.66 L209.50,375.73 L210.50,375.80 L211.50,375.87 L212.50,375.94 L213.50,376.02 L214.50,376.09 L215.50,376.17 L216.50,376.24 L217.50,376.32 L218.50,376.40 L219.50,376.48 L220.50,376.56 L221.50,376.64 L222.50,376.73 L223.50,376.81 L224.50,376.90 L225.50,376.99 L226.50,377.08 L227.50,377.17 L228.50,377.26 L229.50,377.35 L230.50,377.45 L231.50,377.54 L232.50,377.64 L233.50,377.74 L234.50,377.84 L235.50,377.95 L236.50,378.05 L237.50,378.16 L238.50,378.27 L239.50,378.38 L240.50,378.49 L241.50,378.60 L242.50,378.71 L243.50,378.83 L244.50,378.95 L245.50,379.07 L246.50,379.19 L247.50,379.32 L248.50,379.44 L249.50,379.57 L250.50,379.70 L251.50,379.83 L252.50,379.96 L253.50,380.10 L254.50,380.24 L255.50,380.37 L256.50,380.52 L257.50,380.66 L258.50,380.80 L259.50,380.95 L260.50,381.10 L261.50,381.25 L262.50,381.41 L263.50,381.56 L264.50,381.72 L265.50,381.88 L266.50,382.04 L267.50,382.21 L268.50,382.37 L269.50,382.54 L270.50,382.71 L271.50,382.88 L272.50,383.06 L273.50,383.23 L274.50,383.41 L275.50,383.59 L276.50,383.77 L277.50,383.95 L278.50,384.13 L279.50,384.31 L280.50,384.49 L281.50,384.68 L282.50,384.86 L283.50,385.05 L284.50,385.23 L285.50,385.42 L286.50,385.61 L287.50,385.79 L288.50,385.98 L289.50,386.17 L290.50,386.36 L291.50,386.54 L292.50,386.73 L293.50,386.92 L294.50,387.11 L295.50,387.29 L296.50,387.48 L297.50,387.67 L298.50,387.85 L299.50,388.04 L300.50,388.22 L301.50,388.40 L302.50,388.59 L303.50,388.77 L304.50,388.95 L305.50,389.13 L306.50,389.31 L307.50,389.49 L308.50,389.67 L309.50,389.84 L310.50,390.02 L311.50,390.20 L312.50,390.37 L313.50,390.54 L314.50,390.71 L315.50,390.89 L316.50,391.05 L317.50,391.22 L318.50,391.39 L319.50,391.56 L320.50,391.73 L321.50,391.90 L322.50,392.07 L323.50,392.24 L324.50,392.41 L325.50,392.59 L326.50,392.76 L327.50,392.94 L328.50,393.12 L329.50,393.31 L330.50,393.49 L331.50,393.68 L332.50,393.88 L333.50,394.07 L334.50,394.27 L335.50,394.46 L336.50,394.66 L337.50,394.85 L338.50,395.04 L339.50,395.23 L340.50,395.42 L341.50,395.60 L342.50,395.78 L343.50,395.95 L344.50,396.12 L345.50,396.28 L346.50,396.43 L347.50,396.58 L348.50,396.72 L349.50,396.86 L350.50,396.99 L351.50,397.12 L352.50,397.24 L353.50,397.36 L354.50,397.48 L355.50,397.59 L356.50,397.69 L357.50,397.78 L358.50,397.86 L359.50,397.93 L360.50,397.98 L361.50,398.01 L362.50,398.03 L363.50,398.02 L364.50,397.99 L365.50,397.94 L366.50,397.87 L367.50,397.77 L368.50,397.64 L369.50,397.49 L370.50,397.31 L371.50,397.10 L372.50,396.86 L373.50,396.59 L374.50,396.29 L375.50,395.97 L376.50,395.61 L377.50,395.23 L378.50,394.82 L379.50,394.38 L380.50,393.91 L381.50,393.41 L382.50,392.89 L383.50,392.34 L384.50,391.77 L385.50,391.17 L386.50,390.56 L387.50,389.92 L388.50,389.27 L389.50,388.60 L390.50,387.92 L391.50,387.22 L392.50,386.50 L393.50,385.77 L394.50,385.03 L395.50,384.28 L396.50,383.52 L397.50,382.75 L398.50,381.97 L399.50,381.18 L400.50,380.39 L401.50,379.60 L402.50,378.80 L403.50,378.00 L404.50,377.20 L405.50,376.40 L406.50,375.60 L407.50,374.80 L408.50,374.00 L409.50,373.19 L410.50,372.39 L411.50,371.57 L412.50,370.76 L413.50,369.93 L414.50,369.10 L415.50,368.27 L416.50,367.43 L417.50,366.58 L418.50,365.73 L419.50,364.87 L420.50,364.01 L421.50,363.14 L422.50,362.28 L423.50,361.41 L424.50,360.54 L425.50,359.66 L426.50,358.79 L427.50,357.91 L428.50,357.03 L429.50,356.15 L430.50,355.27 L431.50,354.38 L432.50,353.48 L433.50,352.59 L434.50,351.68 L435.50,350.77 L436.50,349.86 L437.50,348.94 L438.50,348.01 L439.50,347.08 L440.50,346.14 L441.50,345.20 L442.50,344.26 L443.50,343.32 L444.50,342.38 L445.50,341.44 L446.50,340.50 L447.50,339.57 L448.50,338.64 L449.50,337.71 L450.50,336.80 L451.50,335.89 L452.50,334.99 L453.50,334.09 L454.50,333.20 L455.50,332.32 L456.50,331.44 L457.50,330.57 L458.50,329.70 L459.50,328.83 L460.50,327.97 L461.50,327.11 L462.50,326.25 L463.50,325.40 L464.50,324.55 L465.50,323.69 L466.50,322.84 L467.50,321.99 L468.50,321.14 L469.50,320.29 L470.50,319.44 L471.50,318.59 L472.50,317.74 L473.50,316.88 L474.50,316.02 L475.50,315.16 L476.50,314.29 L477.50,313.42 L478.50,312.55 L479.50,311.67 L480.50,310.79 L481.50,309.90 L482.50,309.00 L483.50,308.10 L484.50,307.20 L485.50,306.29 L486.50,305.38 L487.50,304.46 L488.50,303.54 L489.50,302.62 L490.50,301.69 L491.50,300.76 L492.50,299.83 L493.50,298.89 L494.50,297.95 L495.50,297.01 L496.50,296.07 L497.50,295.12 L498.50,294.18 L499.50,293.23 L500.50,292.28 L501.50,291.33 L502.50,290.38 L503.50,289.42 L504.50,288.47 L505.50,287.52 L506.50,286.56 L507.50,285.61 L508.50,284.66 L509.50,283.71 L510.50,282.75 L511.50,281.80 L512.50,280.85 L513.50,279.90 L514.50,278.96 L515.50,278.01 L516.50,277.06 L517.50,276.12 L518.50,275.17 L519.50,274.22 L520.50,273.28 L521.50,272.33 L522.50,271.39 L523.50,270.44 L524.50,269.50 L525.50,268.55 L526.50,267.61 L527.50,266.66 L528.50,265.72 L529.50,264.77 L530.50,263.83 L531.50,262.88 L532.50,261.93 L533.50,260.99 L534.50,260.04 L535.50,259.09 L536.50,258.15 L537.50,257.20 L538.50,256.25 L539.50,255.30 L540.50,254.36 L541.50,253.41 L541.60,253.31" stroke="#ff00ff" stroke-dasharray="1.92,2.88"/>
<path d="M161.50,376.00 L162.50,376.07 L163.50,376.14 L164.50,376.21 L165.50,376.28 L166.50,376.35 L167.50,376.42 L168.50,376.49 L169.50,376.56 L170.50,376.63 L171.50,376.70 L172.50,376.77 L173.50,376.84 L174.50,376.91 L175.50,376.98 L176.50,377.05 L177.50,377.12 L178.50,377.19 L179.50,377.26 L180.50,377.34 L181.50,377.41 L182.50,377.48 L183.50,377.55 L184.50,377.62 L185.50,377.70 L186.50,377.77 L187.50,377.84 L188.50,377.92 L189.50,377.99 L190.50,378.06 L191.50,378.14 L192.50,378.21 L193.50,378.29 L194.50,378.36 L195.50,378.44 L196.50,378.51 L197.50,378.59 L198.50,378.67 L199.50,378.74 L200.50,378.82 L201.50,378.90 L202.50,378.98 L203.50,379.06 L204.50,379.14 L205.50,379.22 L206.50,379.30 L207.50,379.39 L208.50,379.47 L209.50,379.56 L210.50,379.64 L211.50,379.73 L212.50,379.82 L213.50,379.91 L214.50,380.00 L215.50,380.09 L216.50,380.18 L217.50,380.28 L218.50,380.37 L219.50,380.47 L220.50,380.57 L221.50,380.67 L222.50,380.77 L223.50,380.88 L224.50,380.98 L225.50,381.09 L226.50,381.20 L227.50,381.31 L228.50,381.43 L229.50,381.54 L230.50,381.66 L231.50,381.78 L232.50,381.90 L233.50,382.02 L234.50,382.15 L235.50,382.28 L236.50,382.41 L237.50,382.54 L238.50,382.68 L239.50,382.82 L240.50,382.96 L241.50,383.11 L242.50,383.25 L243.50,383.40 L244.50,383.56 L245.50,383.72 L246.50,383.88 L247.50,384.04 L248.50,384.21 L249.50,384.38 L250.50,384.56 L251.50,384.74 L252.50,384.92 L253.50,385.11 L254.50,385.30 L255.50,385.50 L256.50,385.70 L257.50,385.90 L258.50,386.11 L259.50,386.33 L260.50,386.54 L261.50,386.76 L262.50,386.99 L263.50,387.22 L264.50,387.45 L265.50,387.69 L266.50,387.93 L267.50,388.18 L268.50,388.43 L269.50,388.68 L270.50,388.94 L271.50,389.20 L272.50,389.47 L273.50,389.74 L274.50,390.01 L275.50,390.29 L276.50,390.57 L277.50,390.85 L278.50,391.14 L279.50,391.43 L280.50,391.73 L281.50,392.03 L282.50,392.33 L283.50,392.64 L284.50,392.95 L285.50,393.26 L286.50,393.58 L287.50,393.90 L288.50,394.22 L289.50,394.55 L290.50,394.88 L291.50,395.21 L292.50,395.55 L293.50,395.89 L294.50,396.23 L295.50,396.57 L296.50,396.92 L297.50,397.27 L298.50,397.63 L299.50,397.98 L300.50,398.34 L301.50,398.70 L302.50,399.07 L303.50,399.43 L304.50,399.80 L305.50,400.16 L306.50,400.53 L307.50,400.90 L308.50,401.27 L309.50,401.64 L310.50,402.02 L311.50,402.39 L312.50,402.76 L313.50,403.14 L314.50,403.51 L315.50,403.88 L316.50,404.25 L317.50,404.62 L318.50,404.99 L319.50,405.36 L320.50,405.72 L321.50,406.08 L322.50,406.44 L323.50,406.80 L324.50,407.15 L325.50,407.50 L326.50,407.84 L327.50,408.18 L328.50,408.51 L329.50,408.84 L330.50,409.16 L331.50,409.47 L332.50,409.78 L333.50,410.07 L334.50,410.35 L335.50,410.62 L336.50,410.87 L337.50,411.09 L338.50,411.30 L339.50,411.48 L340.50,411.64 L341.50,411.77 L342.50,411.87 L343.50,411.95 L344.50,411.99 L345.50,412.00 L346.50,411.98 L347.50,411.92 L348.50,411.83 L349.50,411.70 L350.50,411.53 L351.50,411.32 L352.50,411.07 L353.50,410.78 L354.50,410.46 L355.50,410.10 L356.50,409.70 L357.50,409.28 L358.50,408.83 L359.50,408.36 L360.50,407.86 L361.50,407.35 L362.50,406.80 L363.50,406.24 L364.50,405.65 L365.50,405.03 L366.50,404.40 L367.50,403.73 L368.50,403.05 L369.50,402.35 L370.50,401.62 L371.50,400.88 L372.50,400.13 L373.50,399.36 L374.50,398.58 L375.50,397.79 L376.50,397.00 L377.50,396.20 L378.50,395.40 L379.50,394.59 L380.50,393.78 L381.50,392.97 L382.50,392.15 L383.50,391.33 L384.50,390.50 L385.50,389.67 L386.50,388.84 L387.50,388.00 L388.50,387.16 L389.50,386.32 L390.50,385.47 L391.50,384.62 L392.50,383.76 L393.50,382.90 L394.50,382.04 L395.50,381.18 L396.50,380.31 L397.50,379.44 L398.50,378.57 L399.50,377.69 L400.50,376.81 L401.50,375.93 L402.50,375.04 L403.50,374.16 L404.50,373.27 L405.50,372.37 L406.50,371.48 L407.50,370.58 L408.50,369.68 L409.50,368.78 L410.50,367.87 L411.50,366.97 L412.50,366.06 L413.50,365.15 L414.50,364.24 L415.50,363.32 L416.50,362.41 L417.50,361.49 L418.50,360.57 L419.50,359.65 L420.50,358.72 L421.50,357.80 L422.50,356.87 L423.50,355.95 L424.50,355.02 L425.50,354.09 L426.50,353.16 L427.50,352.23 L428.50,351.30 L429.50,350.37 L430.50,349.43 L431.50,348.50 L432.50,347.57 L433.50,346.64 L434.50,345.71 L435.50,344.78 L436.50,343.85 L437.50,342.92 L438.50,341.99 L439.50,341.06 L440.50,340.14 L441.50,339.21 L442.50,338.29 L443.50,337.36 L444.50,336.44 L445.50,335.52 L446.50,334.60 L447.50,333.67 L448.50,332.75 L449.50,331.83 L450.50,330.91 L451.50,329.99 L451.60,329.90" stroke="#00ffff" stroke-dasharray="11.52,3.84,1.92,3.84"/>
<path d="M161.50,377.00 L162.00,377.04 L162.50,377.09 L163.00,377.13 L163.50,377.18 L164.00,377.23 L164.50,377.27 L165.00,377.32 L165.50,377.37 L166.00,377.42 L166.50,377.47 L167.00,377.52 L167.50,377.58 L168.00,377.63 L168.50,377.69 L169.00,377.75 L169.50,377.81 L170.00,377.88 L170.50,377.94 L171.00,378.01 L171.50,378.09 L172.00,378.16 L172.50,378.24 L173.00,378.32 L173.50,378.40 L174.00,378.48 L174.50,378.57 L175.00,378.66 L175.50,378.75 L176.00,378.84 L176.50,378.93 L177.00,379.03 L177.50,379.13 L178.00,379.23 L178.50,379.33 L179.00,379.43 L179.50,379.53 L180.00,379.63 L180.50,379.74 L181.00,379.85 L181.50,379.95 L182.00,380.06 L182.50,380.17 L183.00,380.28 L183.50,380.38 L184.00,380.49 L184.50,380.60 L185.00,380.71 L185.50,380.82 L186.00,380.93 L186.50,381.04 L187.00,381.15 L187.50,381.26 L188.00,381.37 L188.50,381.48 L189.00,381.59 L189.50,381.70 L190.00,381.81 L190.50,381.92 L191.00,382.03 L191.50,382.14 L192.00,382.24 L192.50,382.35 L193.00,382.46 L193.50,382.57 L194.00,382.68 L194.50,382.78 L195.00,382.89 L195.50,383.00 L196.00,383.11 L196.50,383.21 L197.00,383.32 L197.50,383.43 L198.00,383.53 L198.50,383.64 L199.00,383.74 L199.50,383.85 L200.00,383.96 L200.50,384.06 L201.00,384.17 L201.50,384.27 L202.00,384.38 L202.50,384.48 L203.00,384.58 L203.50,384.69 L204.00,384.79 L204.50,384.90 L205.00,385.00 L205.50,385.10 L206.00,385.21 L206.50,385.31 L207.00,385.41 L207.50,385.51 L208.00,385.62 L208.50,385.72 L209.00,385.82 L209.50,385.92 L210.00,386.03 L210.50,386.13 L211.00,386.23 L211.50,386.33 L212.00,386.44 L212.50,386.54 L213.00,386.64 L213.50,386.74 L214.00,386.85 L214.50,386.95 L215.00,387.05 L215.50,387.16 L216.00,387.26 L216.50,387.37 L217.00,387.47 L217.50,387.58 L218.00,387.68 L218.50,387.79 L219.00,387.90 L219.50,388.00 L220.00,388.11 L220.50,388.22 L221.00,388.33 L221.50,388.44 L222.00,388.54 L222.50,388.66 L223.00,388.77 L223.50,388.88 L224.00,388.99 L224.50,389.10 L225.00,389.22 L225.50,389.33 L226.00,389.45 L226.50,389.56 L227.00,389.68 L227.50,389.80 L228.00,389.92 L228.50,390.04 L229.00,390.16 L229.50,390.28 L230.00,390.40 L230.50,390.52 L231.00,390.65 L231.50,390.77 L232.00,390.90 L232.50,391.03 L233.00,391.16 L233.50,391.29 L234.00,391.42 L234.50,391.55 L235.00,391.68 L235.50,391.81 L236.00,391.95 L236.50,392.09 L237.00,392.22 L237.50,392.36 L238.00,392.50 L238.50,392.64 L239.00,392.78 L239.50,392.92 L240.00,393.07 L240.50,393.21 L241.00,393.36 L241.50,393.51 L242.00,393.65 L242.50,393.80 L243.00,393.95 L243.50,394.10 L244.00,394.26 L244.50,394.41 L245.00,394.57 L245.50,394.72 L246.00,394.88 L246.50,395.04 L247.00,395.20 L247.50,395.36 L248.00,395.52 L248.50,395.68 L249.00,395.85 L249.50,396.01 L250.00,396.18 L250.50,396.35 L251.00,396.52 L251.50,396.69 L252.00,396.86 L252.50,397.03 L253.00,397.20 L253.50,397.38 L254.00,397.55 L254.50,397.73 L255.00,397.91 L255.50,398.09 L256.00,398.27 L256.50,398.46 L257.00,398.64 L257.50,398.82 L258.00,399.01 L258.50,399.20 L259.00,399.39 L259.50,399.58 L260.00,399.77 L260.50,399.96 L261.00,400.16 L261.50,400.35 L262.00,400.55 L262.50,400.75 L263.00,400.95 L263.50,401.15 L264.00,401.35 L264.50,401.56 L265.00,401.76 L265.50,401.97 L266.00,402.18 L266.50,402.39 L267.00,402.60 L267.50,402.81 L268.00,403.03 L268.50,403.24 L269.00,403.46 L269.50,403.68 L270.00,403.90 L270.50,404.12 L271.00,404.34 L271.50,404.57 L272.00,404.80 L272.50,405.02 L273.00,405.25 L273.50,405.49 L274.00,405.72 L274.50,405.95 L275.00,406.19 L275.50,406.43 L276.00,406.67 L276.50,406.91 L277.00,407.15 L277.50,407.40 L278.00,407.65 L278.50,407.90 L279.00,408.15 L279.50,408.40 L280.00,408.66 L280.50,408.92 L281.00,409.19 L281.50,409.45 L282.00,409.72 L282.50,410.00 L283.00,410.27 L283.50,410.55 L284.00,410.83 L284.50,411.12 L285.00,411.40 L285.50,411.69 L286.00,411.99 L286.50,412.29 L287.00,412.59 L287.50,412.89 L288.00,413.20 L288.50,413.51 L289.00,413.82 L289.50,414.13 L290.00,414.45 L290.50,414.78 L291.00,415.10 L291.50,415.43 L292.00,415.76 L292.50,416.10 L293.00,416.44 L293.50,416.78 L294.00,417.12 L294.50,417.47 L295.00,417.82 L295.50,418.18 L296.00,418.53 L296.50,418.89 L297.00,419.26 L297.50,419.62 L298.00,419.99 L298.50,420.36 L299.00,420.73 L299.50,421.10 L300.00,421.47 L300.50,421.85 L301.00,422.23 L301.50,422.60 L302.00,422.98 L302.50,423.36 L303.00,423.74 L303.50,424.11 L304.00,424.49 L304.50,424.87 L305.00,425.24 L305.50,425.61 L306.00,425.98 L306.50,426.35 L307.00,426.72 L307.50,427.08 L308.00,427.44 L308.50,427.79 L309.00,428.15 L309.50,428.49 L310.00,428.84 L310.50,429.18 L311.00,429.51 L311.50,429.84 L312.00,430.16 L312.50,430.48 L313.00,430.79 L313.50,431.09 L314.00,431.38 L314.50,431.67 L315.00,431.95 L315.50,432.22 L316.00,432.48 L316.50,432.73 L317.00,432.96 L317.50,433.19 L318.00,433.40 L318.50,433.60 L319.00,433.78 L319.50,433.95 L320.00,434.10 L320.50,434.24 L321.00,434.35 L321.50,434.45 L322.00,434.52 L322.50,434.57 L323.00,434.60 L323.50,434.60 L324.00,434.58 L324.50,434.53 L325.00,434.46 L325.50,434.37 L326.00,434.26 L326.50,434.13 L327.00,433.97 L327.50,433.79 L328.00,433.60 L328.50,433.39 L329.00,433.16 L329.50,432.91 L330.00,432.65 L330.50,432.38 L331.00,432.09 L331.50,431.80 L332.00,431.50 L332.50,431.19 L333.00,430.88 L333.50,430.57 L334.00,430.25 L334.50,429.94 L335.00,429.62 L335.50,429.31 L336.00,428.99 L336.50,428.68 L337.00,428.36 L337.50,428.04 L338.00,427.72 L338.50,427.39 L339.00,427.06 L339.50,426.72 L340.00,426.38 L340.50,426.03 L341.00,425.67 L341.50,425.31 L342.00,424.93 L342.50,424.55 L343.00,424.17 L343.50,423.77 L344.00,423.37 L344.50,422.96 L345.00,422.55 L345.50,422.13 L346.00,421.70 L346.50,421.27 L347.00,420.84 L347.50,420.40 L348.00,419.96 L348.50,419.51 L349.00,419.06 L349.50,418.61 L350.00,418.16 L350.50,417.70 L351.00,417.24 L351.50,416.78 L352.00,416.32 L352.50,415.86 L353.00,415.40 L353.50,414.94 L354.00,414.48 L354.50,414.02 L355.00,413.55 L355.50,413.09 L356.00,412.63 L356.50,412.17 L357.00,411.71 L357.50,411.25 L358.00,410.78 L358.50,410.32 L359.00,409.86 L359.50,409.40 L360.00,408.94 L360.50,408.47 L361.00,408.01 L361.50,407.55 L362.00,407.09 L362.50,406.62 L363.00,406.16 L363.50,405.70 L364.00,405.23 L364.50,404.77 L365.00,404.31 L365.50,403.84 L366.00,403.38 L366.50,402.91 L367.00,402.44 L367.50,401.98 L368.00,401.51 L368.50,401.04 L369.00,400.57 L369.50,400.11 L370.00,399.64 L370.50,399.17 L371.00,398.70 L371.50,398.23 L372.00,397.76 L372.50,397.28 L373.00,396.81 L373.50,396.34 L374.00,395.87 L374.50,395.39 L375.00,394.92 L375.50,394.45 L376.00,393.97 L376.50,393.50 L377.00,393.02 L377.50,392.55 L378.00,392.07 L378.50,391.60" stroke="#000000" stroke-dasharray="3.84,3.84,3.84,11.52"/>
<path d="M161.50,381.60 L162.00,381.70 L162.50,381.79 L163.00,381.89 L163.50,381.98 L164.00,382.08 L164.50,382.18 L165.00,382.27 L165.50,382.37 L166.00,382.47 L166.50,382.56 L167.00,382.66 L167.50,382.76 L168.00,382.85 L168.50,382.95 L169.00,383.05 L169.50,383.15 L170.00,383.24 L170.50,383.34 L171.00,383.44 L171.50,383.54 L172.00,383.64 L172.50,383.74 L173.00,383.84 L173.50,383.94 L174.00,384.04 L174.50,384.14 L175.00,384.24 L175.50,384.35 L176.00,384.45 L176.50,384.55 L177.00,384.65 L177.50,384.76 L178.00,384.86 L178.50,384.96 L179.00,385.07 L179.50,385.17 L180.00,385.28 L180.50,385.38 L181.00,385.49 L181.50,385.59 L182.00,385.70 L182.50,385.80 L183.00,385.91 L183.50,386.01 L184.00,386.12 L184.50,386.23 L185.00,386.33 L185.50,386.44 L186.00,386.55 L186.50,386.65 L187.00,386.76 L187.50,386.87 L188.00,386.97 L188.50,387.08 L189.00,387.19 L189.50,387.29 L190.00,387.40 L190.50,387.51 L191.00,387.61 L191.50,387.72 L192.00,387.83 L192.50,387.94 L193.00,388.04 L193.50,388.15 L194.00,388.26 L194.50,388.37 L195.00,388.47 L195.50,388.58 L196.00,388.69 L196.50,388.80 L197.00,388.91 L197.50,389.01 L198.00,389.12 L198.50,389.23 L199.00,389.34 L199.50,389.45 L200.00,389.56 L200.50,389.67 L201.00,389.78 L201.50,389.89 L202.00,390.00 L202.50,390.11 L203.00,390.22 L203.50,390.33 L204.00,390.44 L204.50,390.55 L205.00,390.66 L205.50,390.78 L206.00,390.89 L206.50,391.00 L207.00,391.11 L207.50,391.23 L208.00,391.34 L208.50,391.46 L209.00,391.57 L209.50,391.68 L210.00,391.80 L210.50,391.92 L211.00,392.03 L211.50,392.15 L212.00,392.27 L212.50,392.38 L213.00,392.50 L213.50,392.62 L214.00,392.74 L214.50,392.86 L215.00,392.98 L215.50,393.10 L216.00,393.23 L216.50,393.35 L217.00,393.47 L217.50,393.60 L218.00,393.73 L218.50,393.85 L219.00,393.98 L219.50,394.11 L220.00,394.25 L220.50,394.38 L221.00,394.51 L221.50,394.65 L222.00,394.78 L222.50,394.92 L223.00,395.06 L223.50,395.20 L224.00,395.35 L224.50,395.49 L225.00,395.64 L225.50,395.78 L226.00,395.93 L226.50,396.09 L227.00,396.24 L227.50,396.39 L228.00,396.55 L228.50,396.71 L229.00,396.87 L229.50,397.03 L230.00,397.20 L230.50,397.37 L231.00,397.54 L231.50,397.71 L232.00,397.88 L232.50,398.06 L233.00,398.24 L233.50,398.42 L234.00,398.61 L234.50,398.79 L235.00,398.99 L235.50,399.18 L236.00,399.38 L236.50,399.58 L237.00,399.78 L237.50,399.99 L238.00,400.20 L238.50,400.41 L239.00,400.63 L239.50,400.85 L240.00,401.07 L240.50,401.30 L241.00,401.53 L241.50,401.77 L242.00,402.01 L242.50,402.25 L243.00,402.50 L243.50,402.76 L244.00,403.02 L244.50,403.28 L245.00,403.55 L245.50,403.82 L246.00,404.09 L246.50,404.38 L247.00,404.66 L247.50,404.96 L248.00,405.25 L248.50,405.55 L249.00,405.86 L249.50,406.18 L250.00,406.49 L250.50,406.82 L251.00,407.15 L251.50,407.48 L252.00,407.83 L252.50,408.17 L253.00,408.53 L253.50,408.89 L254.00,409.26 L254.50,409.63 L255.00,410.01 L255.50,410.40 L256.00,410.79 L256.50,411.19 L257.00,411.60 L257.50,412.01 L258.00,412.44 L258.50,412.87 L259.00,413.30 L259.50,413.75 L260.00,414.20 L260.50,414.66 L261.00,415.13 L261.50,415.60 L262.00,416.09 L262.50,416.57 L263.00,417.07 L263.50,417.57 L264.00,418.08 L264.50,418.59 L265.00,419.10 L265.50,419.63 L266.00,420.15 L266.50,420.68 L267.00,421.21 L267.50,421.75 L268.00,422.29 L268.50,422.83 L269.00,423.38 L269.50,423.92 L270.00,424.47 L270.50,425.02 L271.00,425.57 L271.50,426.12 L272.00,426.67 L272.50,427.23 L273.00,427.78 L273.50,428.34 L274.00,428.89 L274.50,429.45 L275.00,430.01 L275.50,430.57 L276.00,431.12 L276.50,431.68 L277.00,432.24 L277.50,432.80 L278.00,433.36 L278.50,433.92 L279.00,434.48 L279.50,435.04 L280.00,435.60 L280.50,436.15 L281.00,436.71 L281.50,437.27 L282.00,437.82 L282.50,438.38 L283.00,438.93 L283.50,439.48 L284.00,440.03 L284.50,440.57 L285.00,441.11 L285.50,441.65 L286.00,442.19 L286.50,442.72 L287.00,443.25 L287.50,443.77 L288.00,444.29 L288.50,444.80 L289.00,445.31 L289.50,445.81 L290.00,446.30 L290.50,446.79 L291.00,447.26 L291.50,447.73 L292.00,448.19 L292.50,448.64 L293.00,449.07 L293.50,449.49 L294.00,449.90 L294.50,450.29 L295.00,450.67 L295.50,451.03 L296.00,451.37 L296.50,451.69 L297.00,451.98 L297.50,452.25 L298.00,452.50 L298.50,452.72 L299.00,452.91 L299.50,453.07 L300.00,453.20 L300.50,453.30 L301.00,453.37 L301.50,453.40 L302.00,453.40 L302.50,453.36 L303.00,453.30 L303.50,453.21 L304.00,453.09 L304.50,452.96 L305.00,452.80 L305.50,452.63 L306.00,452.44 L306.50,452.24 L307.00,452.02 L307.50,451.78 L308.00,451.53 L308.50,451.27 L309.00,450.99 L309.50,450.70 L310.00,450.39 L310.50,450.07 L311.00,449.74 L311.50,449.39 L312.00,449.03 L312.50,448.67 L313.00,448.29 L313.50,447.91 L314.00,447.51 L314.50,447.11 L315.00,446.71 L315.50,446.30 L316.00,445.89 L316.50,445.47 L317.00,445.05 L317.50,444.64 L318.00,444.22 L318.50,443.80 L319.00,443.38 L319.50,442.97 L320.00,442.56 L320.50,442.14 L321.00,441.72 L321.50,441.31 L322.00,440.88 L322.50,440.46 L323.00,440.03 L323.50,439.59 L324.00,439.15 L324.50,438.71 L325.00,438.26 L325.50,437.82 L326.00,437.37 L326.50,436.92 L327.00,436.48 L327.50,436.03 L328.00,435.59 L328.50,435.15 L329.00,434.72 L329.50,434.29 L330.00,433.86 L330.50,433.44 L331.00,433.03 L331.50,432.62 L332.00,432.21 L332.50,431.81 L333.00,431.40 L333.50,431.00" stroke="#ff4500" stroke-dasharray="1.92,3.84,11.52,3.84,1.92,3.84"/>
</g>
<g fill="none" stroke-width="7.0">
<path d="M355.00,58.50H431.70" stroke="#ff0000"/>
<path d="M355.00,88.13H431.70" stroke="#00ff00" stroke-dasharray="7.68,3.84"/>
<path d="M355.00,117.76H431.70" stroke="#0000ff" stroke-dasharray="3.84,5.76"/>
<path d="M355.00,147.39H431.70" stroke="#ff00ff" stroke-dasharray="1.92,2.88"/>
<path d="M355.00,177.02H431.70" stroke="#00ffff" stroke-dasharray="11.52,3.84,1.92,3.84"/>
<path d="M355.00,206.65H431.70" stroke="#000000" stroke-dasharray="3.84,3.84,3.84,11.52"/>
<path d="M355.00,236.28H431.70" stroke="#ff4500" stroke-dasharray="1.92,3.84,11.52,3.84,1.92,3.84"/>
</g>
<rect x="161.50" y="31.80" width="622.90" height="440.90" fill="none" stroke="#000" stroke-width="2.1"/>
<g font-family="'Liberation Sans', sans-serif" font-size="26.67" fill="#000" stroke="#000" stroke-width="0.3" opacity="0.999">
<text transform="translate(338.60,67.90) scale(1,1.030)" x="-126.01 -111.17 -96.34 -88.93 -80.05 -65.22 -51.88 -37.05 -28.17 -14.83" stroke-width="0.12">no reverse</text>
<text transform="translate(338.60,97.83) scale(1,1.140)" x="-51.91 -37.07 -29.67 -14.83">0.03</text>
<text transform="translate(338.60,127.46) scale(1,1.140)" x="-37.07 -22.24 -14.83">0.1</text>
<text transform="translate(338.60,157.09) scale(1,1.140)" x="-37.07 -22.24 -14.83">0.3</text>
<text transform="translate(338.60,186.72) scale(1,1.140)" x="-14.83">1</text>
<text transform="translate(338.60,216.35) scale(1,1.140)" x="-14.83">3</text>
<text transform="translate(338.60,245.98) scale(1,1.140)" x="-29.67 -14.83">10</text>
<text transform="translate(144.70,40.50) scale(1,1.140)" x="-14.83">1</text>
<text transform="translate(144.70,151.22) scale(1,1.140)" x="-37.07 -22.24 -14.83">0.1</text>
<text transform="translate(144.70,261.75) scale(1,1.140)" x="-51.91 -37.07 -29.67 -14.83">0.01</text>
<text transform="translate(144.70,371.97) scale(1,1.140)" x="-66.74 -51.91 -44.50 -29.67 -14.83">0.001</text>
<text transform="translate(144.70,482.20) scale(1,1.140)" x="-81.57 -66.74 -59.33 -44.50 -29.67 -14.83">0.0001</text>
<text transform="translate(165.30,509.10) scale(1,1.140)" x="-34.10">1</text><text transform="translate(165.30,509.10) scale(1,1.140)" x="4.44 19.27">05</text><text transform="translate(165.30,508.80) scale(1,1.030)" x="-19.27 -4.44" stroke-width="0.12">e-</text>
<text transform="translate(282.80,509.10) scale(1,1.140)" x="-40.79 -25.95 -18.54 -3.71 11.12 25.95">0.0001</text>
<text transform="translate(400.30,509.10) scale(1,1.140)" x="-33.37 -18.54 -11.13 3.70 18.54">0.001</text>
<text transform="translate(517.80,509.10) scale(1,1.140)" x="-25.95 -11.12 -3.71 11.13">0.01</text>
<text transform="translate(635.30,509.10) scale(1,1.140)" x="-18.54 -3.70 3.71">0.1</text>
<text transform="translate(752.80,509.10) scale(1,1.140)" x="-7.41">1</text>
<text x="440.50" y="547.00" stroke="none">σ</text>
<text transform="translate(456.86,554.50) scale(1,0.950)" font-size="21.33">d,-20</text>
<text transform="translate(8.90,269.60) rotate(-90) scale(1,1.140)">f</text>
<text transform="translate(16.60,262.59) rotate(-90) scale(1,1.100)" font-size="21.33">H2</text>
</g>
</svg>
</body></html>
